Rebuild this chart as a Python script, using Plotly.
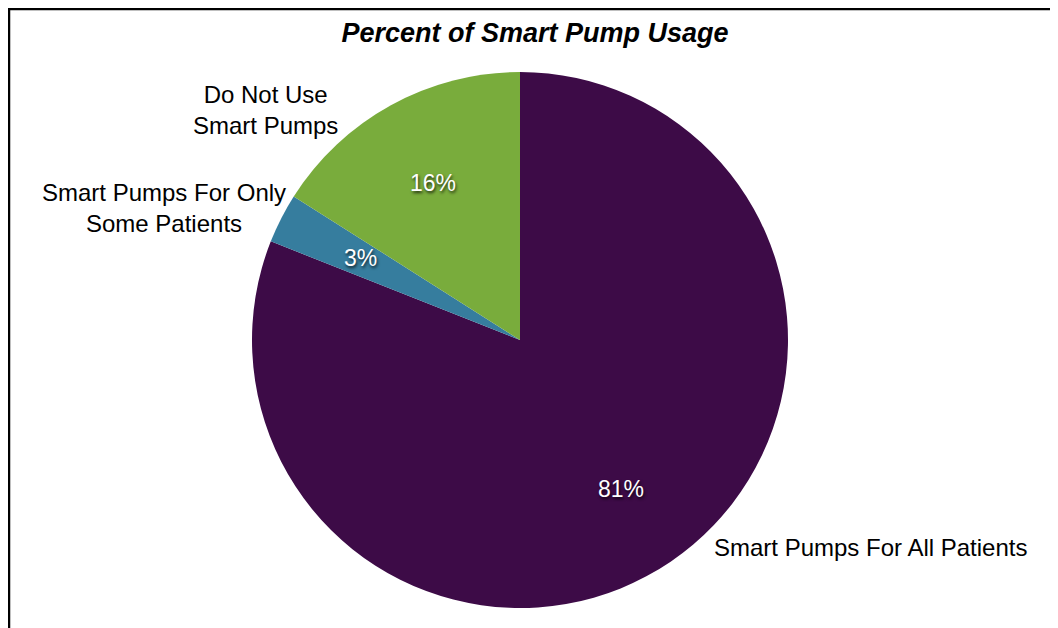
import math
import plotly.graph_objects as go

categories = ["Smart Pumps For All Patients", "Smart Pumps For Only Some Patients", "Do Not Use Smart Pumps"]
values = [81, 3, 16]
colors = ["#3d0b47", "#367d9e", "#79ac3c"]

# page body has an 8px margin, so the figure is sized to fit the window
W, H = 1050, 620
cx, cy, r = 512, 332, 268

fig = go.Figure(go.Pie(
    labels=categories,
    values=values,
    sort=False,
    direction="clockwise",
    rotation=0,
    marker=dict(colors=colors, line=dict(width=0)),
    textinfo="none",
    showlegend=False,
    hoverinfo="label+percent",
    domain=dict(x=[(cx - r) / W, (cx + r) / W], y=[1 - (cy + r) / H, 1 - (cy - r) / H]),
))


def px(x):
    return x / W


def py(y):
    return 1 - y / H


# percentage labels placed at each slice's mid-angle
total = sum(values)
cum = 0
pct_font = dict(family="Liberation Sans, Arial", size=23, color="white",
                shadow="1px 2px 3px rgba(0,0,0,0.75)")
for v in values:
    mid = (cum + v / 2) / total * 2 * math.pi
    cum += v
    x = cx + 0.67 * r * math.sin(mid)
    y = cy - 0.67 * r * math.cos(mid)
    fig.add_annotation(text=f"{round(v / total * 100)}%", x=px(x), y=py(y), xref="paper", yref="paper",
                       showarrow=False, font=pct_font, xanchor="center", yanchor="middle")

label_font = dict(family="Liberation Sans, Arial", size=24, color="black")
annots = [
    ("Do Not Use<br>Smart Pumps", 257, 102),
    ("Smart Pumps For Only<br>Some Patients", 156, 200),
    ("Smart Pumps For All Patients", 862, 539),
]
for text, x, y in annots:
    fig.add_annotation(text=text, x=px(x), y=py(y), xref="paper", yref="paper",
                       showarrow=False, font=label_font, align="center",
                       xanchor="center", yanchor="middle")

fig.update_layout(
    width=W, height=H,
    margin=dict(l=0, r=0, t=0, b=0),
    paper_bgcolor="white",
    plot_bgcolor="white",
    title=dict(text="<b><i>Percent of Smart Pump Usage</i></b>", x=527 / W, xanchor="center",
               y=py(25), yanchor="middle",
               font=dict(family="Liberation Sans, Arial", size=27, color="black")),
    shapes=[
        dict(type="line", xref="paper", yref="paper", x0=px(1), x1=px(1), y0=py(0), y1=py(H),
             line=dict(color="black", width=2.5)),
        dict(type="line", xref="paper", yref="paper", x0=px(0), x1=px(W), y0=py(1), y1=py(1),
             line=dict(color="black", width=2.5)),
    ],
)

fig.write_html("out.html")
